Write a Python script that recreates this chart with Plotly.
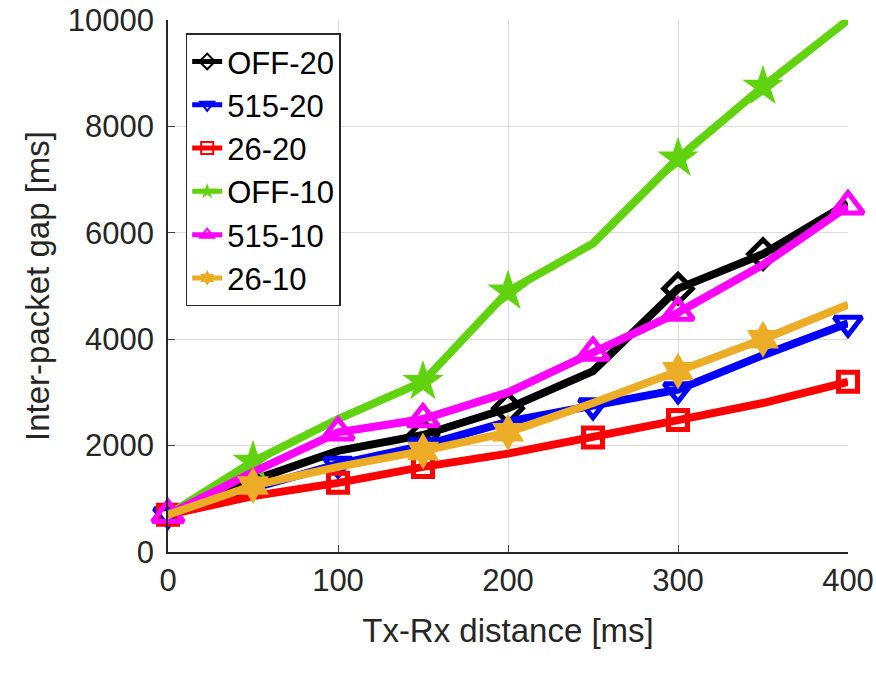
import plotly.graph_objects as go

# distancias (eje x)
distance = [0, 50, 100, 150, 200, 250, 300, 350, 400]

# series
off_20 = [700, 1350, 1900, 2200, 2700, 3400, 4950, 5600, 6550]
s515_20 = [700, 1200, 1650, 2000, 2450, 2750, 3050, 3700, 4300]
s26_20 = [700, 1050, 1300, 1600, 1850, 2150, 2480, 2800, 3200]
off_10 = [700, 1700, 2500, 3200, 4900, 5800, 7400, 8750, 10000]
s515_10 = [700, 1500, 2250, 2500, 3000, 3750, 4500, 5400, 6500]
s26_10 = [700, 1250, 1600, 1900, 2250, 2800, 3400, 4000, 4650]

# puntos (x) donde se dibuja marcador
marks_a = [0, 100, 150, 250, 300, 400]
marks_b = [50, 150, 200, 300, 350]

names = ['OFF-20', '515-20', '26-20', 'OFF-10', '515-10', '26-10']
series = [off_20, s515_20, s26_20, off_10, s515_10, s26_10]
marks = [marks_b, marks_a, marks_a, marks_b, marks_a, marks_b]

colors = ['#000000', '#0000ff', '#ff0000', '#61d20e', '#ff00ff', '#ecac26']
symbols = ['diamond-open', 'triangle-down-open', 'square-open', 'star', 'triangle-up-open', 'hexagram']
sizes = [22, 24, 19, 31, 27, 28]

fig = go.Figure()
for name, y, mk, col, sym, sz in zip(names, series, marks, colors, symbols, sizes):
    msize = [sz if d in mk else 0 for d in distance]
    fig.add_trace(go.Scatter(
        x=distance, y=y, name=name, mode='lines+markers',
        line=dict(color=col, width=8),
        marker=dict(symbol=sym, size=msize, color=col, opacity=1,
                    line=dict(color=col, width=5 if 'open' in sym else 0)),
        cliponaxis=False,
    ))

font = 'Arial, Liberation Sans, sans-serif'
fig.update_layout(
    width=876, height=675,
    margin=dict(l=168, r=28, t=20, b=123),
    plot_bgcolor='white', paper_bgcolor='white',
    font=dict(family=font, size=31, color='#262626'),
    showlegend=True,
    legend=dict(x=0.026, y=0.975, xanchor='left', yanchor='top',
                bgcolor='white', bordercolor='#262626', borderwidth=1.5,
                font=dict(size=31, color='black'), itemsizing='constant'),
)
fig.update_xaxes(range=[0, 400], dtick=100, ticks='inside', ticklen=7,
                 showline=True, linecolor='#262626', linewidth=1.5, automargin=False,
                 showgrid=True, gridcolor='#dcdcdc', gridwidth=1, zeroline=False,
                 tickfont=dict(size=31), ticklabeloverflow='allow',
                 title=dict(text='Tx-Rx distance [ms]', standoff=22, font=dict(size=33)))
fig.update_yaxes(range=[0, 10000], dtick=2000, tickformat='d', ticks='inside', ticklen=7,
                 showline=True, linecolor='#262626', linewidth=1.5, automargin=False,
                 showgrid=True, gridcolor='#dcdcdc', gridwidth=1, zeroline=False,
                 tickfont=dict(size=31), ticklabeloverflow='allow', ticklabelstandoff=6,
                 title=dict(text='Inter-packet gap [ms]', standoff=8, font=dict(size=33)))

# quitar el margen propio de la página para que la figura ocupe la ventana
fig.write_html("out.html", config={'displayModeBar': False},
               post_script="document.body.style.margin='0';")
